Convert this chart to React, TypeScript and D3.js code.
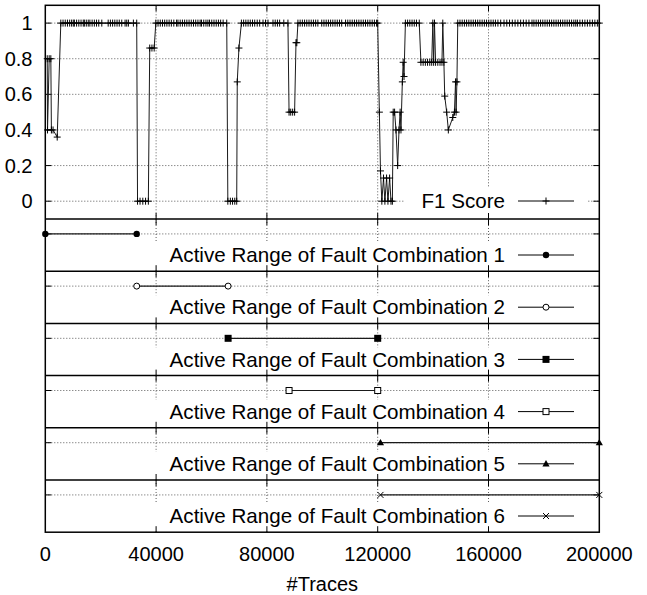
import React from 'react';
import * as d3 from 'd3';

const W = 647;
const H = 595;
const FONT = '"Liberation Sans", Arial, Helvetica, sans-serif';

const X_TICKS = [0, 40000, 80000, 120000, 160000, 200000];
const Y_TICKS = [0, 0.2, 0.4, 0.6, 0.8, 1];
const Y_TICK_LABELS = ['0', '0.2', '0.4', '0.6', '0.8', '1'];

// F1 score: x in thousands of traces where the score sits at 1
const F1_AT_ONE = [
  5.6, 6.4, 7.2, 8.0, 8.8, 9.5, 10.1, 10.5, 11.3, 12.1, 12.9, 13.7, 14.1, 14.8, 15.5,
  16.1, 16.9, 17.7, 18.5, 19.3, 20.4, 22.7, 23.5, 24.3, 25.1, 25.9, 26.7, 27.6,
  28.8, 29.4, 30.0, 31.8, 33.0,
  39.9, 40.7, 41.5, 42.3, 43.1, 43.9, 44.7, 45.5, 46.4, 47.4, 47.9, 48.7, 49.5, 50.3,
  51.1, 51.9, 52.7, 53.5, 54.3, 55.1, 55.9, 56.4, 57.2, 58.0, 58.7, 59.3, 60.1, 60.9,
  61.7, 62.5, 63.3, 64.2, 65.5,
  70.8, 71.6, 72.4, 73.2, 74.0, 74.8, 75.6, 76.5, 77.4, 78.6, 79.5, 80.4, 82.2, 83.0,
  83.8, 84.6, 86.1, 87.6,
  91.2, 92.0, 92.8, 93.6, 94.4, 95.2, 96.0, 96.8, 97.6, 98.4, 99.8, 100.6, 101.4, 102.2,
  103.0, 103.8, 104.6, 105.4, 106.2, 107.0, 108.4, 109.2, 110.0, 110.8, 111.6, 112.4,
  113.2, 114.0, 114.8, 115.6, 116.4, 117.2, 118.0, 118.8, 119.6, 120.0,
  130.0, 130.8, 131.6, 132.4, 133.2, 134.0, 135.0, 139.9, 140.5, 143.5,
  148.9, 149.7, 150.5, 151.3, 152.1, 152.9, 153.7, 154.5, 155.3, 156.1, 156.9, 157.7,
  158.5, 159.3, 160.1, 160.9, 161.7, 162.5, 163.4, 164.4, 165.6, 166.6, 167.6, 168.6,
  169.6, 170.6, 171.6, 172.6, 173.6, 174.6, 175.7, 176.4, 177.2, 178.0, 178.8, 179.6,
  180.4, 181.2, 182.0, 182.8, 183.6, 184.4, 185.2, 186.0, 186.8, 187.6, 188.4, 189.2,
  190.0, 190.8, 191.5, 192.1, 193.0, 193.9, 194.8, 195.7, 196.6, 197.5, 198.4, 199.3, 200.0,
];

// F1 score: [x in thousands of traces, score] where it drops below 1
const F1_DIPS: [number, number][] = [
  [0.7, 0.8], [0.8, 0.4], [1.4, 0.8], [2.0, 0.8], [2.2, 0.4], [2.8, 0.4], [4.3, 0.36],
  [33.3, 0], [34.2, 0], [35.2, 0], [36.2, 0], [37.2, 0], [37.7, 0.86], [38.5, 0.86], [39.3, 0.86],
  [65.9, 0], [66.8, 0], [67.6, 0], [68.4, 0], [69.1, 0], [69.3, 0.67], [69.9, 0.86],
  [88.0, 0.5], [88.6, 0.5], [89.3, 0.5], [90.0, 0.5], [90.5, 0.89], [90.8, 0.89],
  [120.6, 0.5], [121.0, 0.17], [121.5, 0], [122.1, 0.13], [122.6, 0], [123.2, 0.13],
  [123.7, 0], [124.3, 0.13], [124.8, 0], [125.3, 0], [125.6, 0.5], [126.1, 0.5],
  [126.6, 0.4], [127.2, 0.2], [127.7, 0.4], [128.1, 0.5], [128.4, 0.4], [128.9, 0.67],
  [129.2, 0.78], [129.5, 0.7],
  [135.6, 0.78], [136.4, 0.78], [137.2, 0.78], [138.0, 0.78], [138.8, 0.78], [139.5, 0.78],
  [140.2, 0.78], [140.9, 0.78], [141.7, 0.78], [142.5, 0.78], [143.2, 0.78], [143.9, 0.78],
  [144.2, 0.59], [144.9, 0.5], [145.5, 0.4], [147.1, 0.47], [147.7, 0.5], [148.1, 0.67],
  [148.3, 0.5], [148.6, 0.67],
];

// Active ranges of the six fault combinations (traces)
const COMBO_LABELS = [
  'Active Range of Fault Combination 1',
  'Active Range of Fault Combination 2',
  'Active Range of Fault Combination 3',
  'Active Range of Fault Combination 4',
  'Active Range of Fault Combination 5',
  'Active Range of Fault Combination 6',
];
const RANGE_START = [0, 33000, 66000, 88000, 121000, 121000];
const RANGE_END = [33000, 66000, 120000, 120000, 200000, 200000];
const COMBO_MARKERS = ['circleFilled', 'circleOpen', 'squareFilled', 'squareOpen', 'triangle', 'cross'];

const LEFT = 45.3;
const RIGHT = 599.3;
const TOP = 5.3;
const TOP_BOTTOM = 219;
const SUB_H = 52.2;
const TICK = 6;
const LEGEND_FS = 20.6;

function Marker({ type, x, y }: { type: string; x: number; y: number }) {
  const s = 3.5;
  switch (type) {
    case 'plus':
      return <path d={`M${x - s},${y}H${x + s}M${x},${y - s}V${y + s}`} stroke="#000" strokeWidth={1} />;
    case 'circleFilled':
      return <circle cx={x} cy={y} r={3.2} fill="#000" />;
    case 'circleOpen':
      return <circle cx={x} cy={y} r={3} fill="#fff" stroke="#000" strokeWidth={1} />;
    case 'squareFilled':
      return <rect x={x - 3.5} y={y - 3.5} width={7} height={7} fill="#000" />;
    case 'squareOpen':
      return <rect x={x - 3} y={y - 3} width={6} height={6} fill="#fff" stroke="#000" strokeWidth={1} />;
    case 'triangle':
      return <path d={`M${x},${y - 3.8}L${x + 3.6},${y + 2.6}L${x - 3.6},${y + 2.6}Z`} fill="#000" />;
    case 'cross':
      return <path d={`M${x - 3},${y - 3}L${x + 3},${y + 3}M${x - 3},${y + 3}L${x + 3},${y - 3}`} stroke="#000" strokeWidth={1} />;
    default:
      return null;
  }
}

export default function App() {
  const x = d3.scaleLinear().domain([0, 200000]).range([LEFT, RIGHT]);
  const yTop = d3.scaleLinear().domain([-0.1, 1.1]).range([TOP_BOTTOM, TOP]);

  const f1 = [...F1_AT_ONE.map(k => [k, 1] as [number, number]), ...F1_DIPS]
    .sort((a, b) => a[0] - b[0])
    .map(([k, v]) => ({ t: k * 1000, v }));

  const line = d3.line<{ t: number; v: number }>().x(d => x(d.t)).y(d => yTop(d.v));

  const panels = COMBO_LABELS.map((label, i) => {
    const top = TOP_BOTTOM + i * SUB_H;
    const bottom = top + SUB_H;
    const y = d3.scaleLinear().domain([0, 1.4]).range([bottom, top]);
    return { label, i, top, bottom, y };
  });
  const plotBottom = TOP_BOTTOM + 6 * SUB_H;

  const gridStyle = { stroke: '#333', strokeWidth: 0.8, strokeDasharray: '1,2', fill: 'none' };

  const xTickMarks = (top: number, bottom: number, key: string) =>
    X_TICKS.slice(1, -1).map(t => (
      <g key={key + t}>
        <line x1={x(t)} x2={x(t)} y1={bottom} y2={bottom - TICK} stroke="#000" strokeWidth={1} />
        <line x1={x(t)} x2={x(t)} y1={top} y2={top + TICK} stroke="#000" strokeWidth={1} />
      </g>
    ));

  const legendKey = (yy: number, type: string) => (
    <g>
      <line x1={518} x2={574} y1={yy} y2={yy} stroke="#000" strokeWidth={1} />
      <Marker type={type} x={546} y={yy} />
    </g>
  );

  return (
    <svg width={W} height={H} style={{ position: 'fixed', left: 0, top: 0, display: 'block', background: '#fff' }}
      fontFamily={FONT}>
      <rect width={W} height={H} fill="#fff" />

      {/* top panel grid */}
      {Y_TICKS.map(t => (
        <line key={'hg' + t} x1={LEFT} x2={RIGHT} y1={yTop(t)} y2={yTop(t)} {...gridStyle} />
      ))}
      {X_TICKS.slice(1, -1).map(t => (
        <line key={'vg' + t} x1={x(t)} x2={x(t)} y1={TOP} y2={TOP_BOTTOM} {...gridStyle} />
      ))}
      <rect x={405} y={187} width={183} height={31} fill="#fff" />

      {/* sub panel grids */}
      {panels.map(p => (
        <g key={'pg' + p.i}>
          <line x1={LEFT} x2={RIGHT} y1={p.y(1)} y2={p.y(1)} {...gridStyle} />
          {X_TICKS.slice(1, -1).map(t => (
            <line key={t} x1={x(t)} x2={x(t)} y1={p.top} y2={p.bottom} {...gridStyle} />
          ))}
          <rect x={150} y={p.top + 24} width={438} height={SUB_H - 25} fill="#fff" />
        </g>
      ))}

      {/* ticks */}
      {Y_TICKS.map(t => (
        <g key={'yt' + t}>
          <line x1={LEFT} x2={LEFT + TICK} y1={yTop(t)} y2={yTop(t)} stroke="#000" strokeWidth={1} />
          <line x1={RIGHT} x2={RIGHT - TICK} y1={yTop(t)} y2={yTop(t)} stroke="#000" strokeWidth={1} />
        </g>
      ))}
      {xTickMarks(TOP, TOP_BOTTOM, 'top')}
      {panels.map(p => (
        <g key={'pt' + p.i}>
          {xTickMarks(p.top, p.bottom, 'p' + p.i)}
          <line x1={LEFT} x2={LEFT + TICK} y1={p.y(1)} y2={p.y(1)} stroke="#000" strokeWidth={1} />
          <line x1={RIGHT} x2={RIGHT - TICK} y1={p.y(1)} y2={p.y(1)} stroke="#000" strokeWidth={1} />
        </g>
      ))}

      {/* F1 series */}
      <path d={line(f1) ?? ''} fill="none" stroke="#1a1a1a" strokeWidth={1} />
      {f1.map((d, i) => (
        <Marker key={'f' + i} type="plus" x={x(d.t)} y={yTop(d.v)} />
      ))}

      {/* active ranges */}
      {panels.map(p => (
        <g key={'r' + p.i}>
          <line x1={x(RANGE_START[p.i])} x2={x(RANGE_END[p.i])} y1={p.y(1)} y2={p.y(1)} stroke="#1a1a1a" strokeWidth={1.2} />
          <Marker type={COMBO_MARKERS[p.i]} x={x(RANGE_START[p.i])} y={p.y(1)} />
          <Marker type={COMBO_MARKERS[p.i]} x={x(RANGE_END[p.i])} y={p.y(1)} />
        </g>
      ))}

      {/* borders */}
      <rect x={LEFT} y={TOP} width={RIGHT - LEFT} height={plotBottom - TOP} fill="none" stroke="#000" strokeWidth={1.5} />
      {panels.map(p => (
        <line key={'b' + p.i} x1={LEFT} x2={RIGHT} y1={p.top} y2={p.top} stroke="#000" strokeWidth={1.5} />
      ))}

      {/* legends */}
      <text x={505} y={201} dy="0.35em" textAnchor="end" fontSize={LEGEND_FS} fill="#000">F1 Score</text>
      {legendKey(201, 'plus')}
      {panels.map(p => (
        <g key={'l' + p.i}>
          <text x={505} y={p.top + 36} dy="0.35em" textAnchor="end" fontSize={LEGEND_FS} fill="#000">{p.label}</text>
          {legendKey(p.top + 36, COMBO_MARKERS[p.i])}
        </g>
      ))}

      {/* axis labels */}
      {Y_TICKS.map((t, i) => (
        <text key={'yl' + t} x={32.5} y={yTop(t)} dy="0.35em" textAnchor="end" fontSize={20} fill="#000">
          {Y_TICK_LABELS[i]}
        </text>
      ))}
      {X_TICKS.map(t => (
        <text key={'xl' + t} x={x(t)} y={561} textAnchor="middle" fontSize={20} fill="#000">{t}</text>
      ))}
      <text x={(LEFT + RIGHT) / 2} y={591} textAnchor="middle" fontSize={20} fill="#000">#Traces</text>
    </svg>
  );
}
